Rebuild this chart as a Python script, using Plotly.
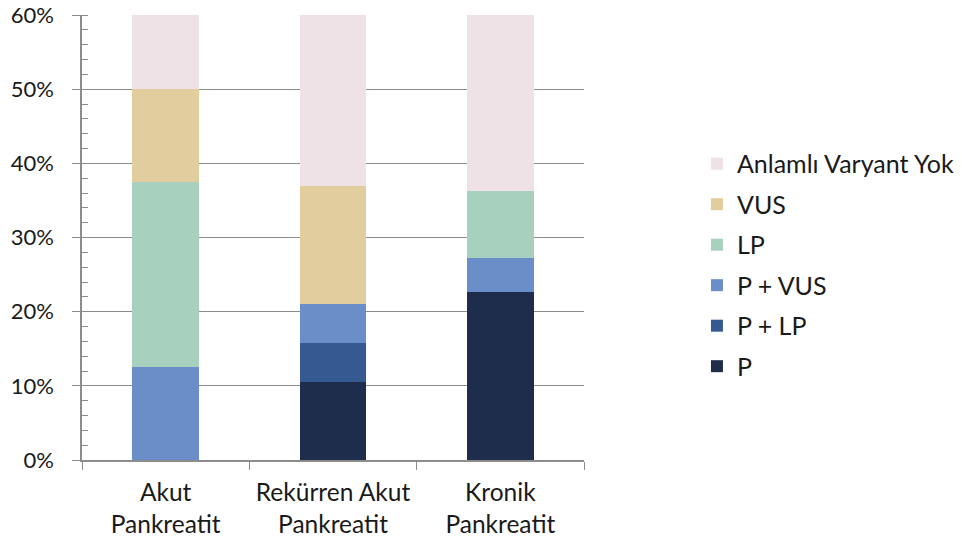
import plotly.graph_objects as go

categories = ["Akut<br>Pankreatit", "Rekürren Akut<br>Pankreatit", "Kronik<br>Pankreatit"]

# Share of patients per variant class (fractions), stacked bottom to top
p_only = [0.0, 0.105, 0.227]
p_lp = [0.0, 0.053, 0.0]
p_vus = [0.125, 0.053, 0.045]
lp = [0.25, 0.0, 0.091]
vus = [0.125, 0.158, 0.0]
no_variant = [0.50, 0.632, 0.637]

y_ticks = [0.0, 0.1, 0.2, 0.3, 0.4, 0.5, 0.6]
y_tick_labels = ["0%", "10%", "20%", "30%", "40%", "50%", "60%"]

series = [
    ("P", p_only, "#1E2D4B"),
    ("P + LP", p_lp, "#355A91"),
    ("P + VUS", p_vus, "#6A8EC8"),
    ("LP", lp, "#A8D0BE"),
    ("VUS", vus, "#E2CD9E"),
    ("Anlamlı Varyant Yok", no_variant, "#EFE2E7"),
]

fig = go.Figure()
n = len(series)
for i, (name, vals, color) in enumerate(series):
    fig.add_trace(go.Bar(
        x=categories, y=vals, name=name,
        marker=dict(color=color, line=dict(width=0)),
        width=0.4, legendgroup=str(i), legendrank=(n - i) * 100,
    ))

axis_gray = "#8C8C8C"
font_family = "Lato, 'Open Sans', sans-serif"

fig.update_layout(
    barmode="stack",
    width=962, height=541,
    margin=dict(l=82, r=378, t=15, b=81, autoexpand=False),
    paper_bgcolor="white", plot_bgcolor="white",
    font=dict(family=font_family, size=24, color="#1A1A1A"),
    showlegend=True,
    legend=dict(
        x=1.225, xanchor="left", y=0.717, yanchor="top",
        traceorder="grouped", tracegroupgap=5,
        font=dict(size=25), itemwidth=30,
    ),
)

fig.update_yaxes(
    range=[0, 0.6], tickmode="array", tickvals=y_ticks, ticktext=y_tick_labels,
    automargin=False, ticklabeloverflow="allow", tickfont=dict(size=22),
    showgrid=True, gridcolor=axis_gray, gridwidth=1.3,
    showline=True, linecolor=axis_gray, linewidth=1.5,
    ticks="outside", ticklen=8, tickcolor=axis_gray, tickwidth=1.3,
    minor=dict(dtick=0.02, ticks="inside", ticklen=6, tickcolor=axis_gray, tickwidth=1.3, showgrid=False),
    zeroline=False, ticklabelstandoff=14,
)

fig.update_xaxes(
    automargin=False, tickfont=dict(size=24.5),
    showline=True, linecolor=axis_gray, linewidth=1.5,
    ticks="outside", tickson="boundaries", ticklen=8, tickcolor=axis_gray, tickwidth=1.3,
    showgrid=False, ticklabelstandoff=10,
)

fig.write_html("out.html")
